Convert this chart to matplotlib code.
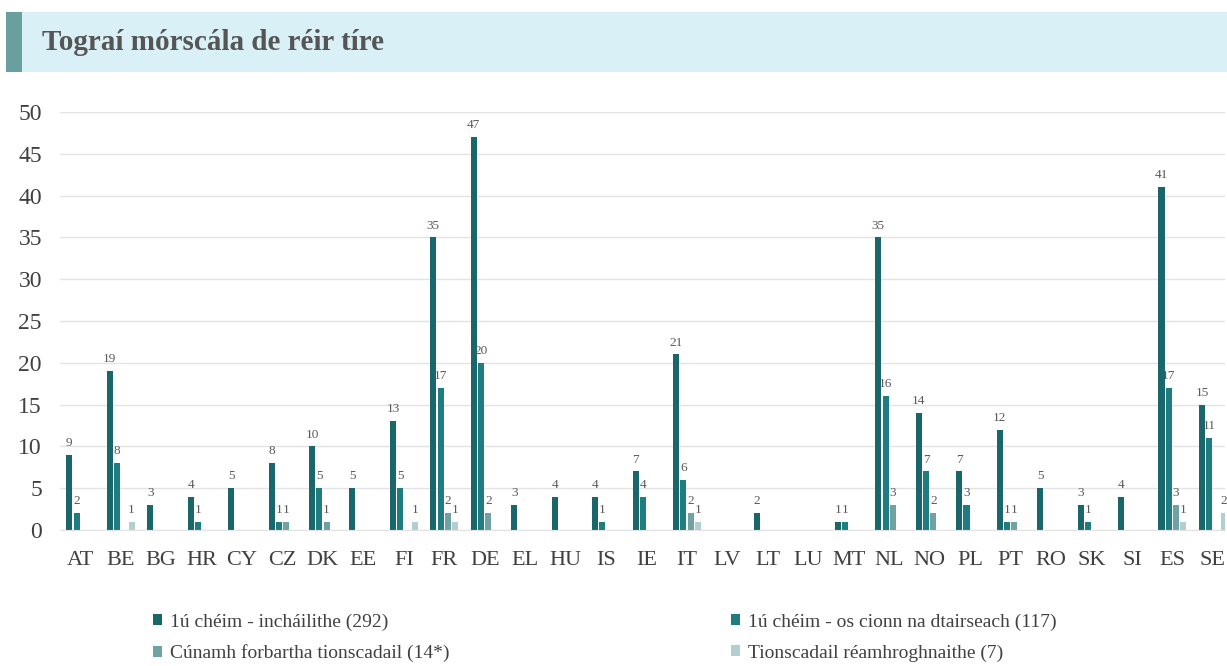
import matplotlib
matplotlib.use("Agg")
import matplotlib.pyplot as plt
import numpy as np
from matplotlib.patches import Rectangle, Patch

countries = ["AT", "BE", "BG", "HR", "CY", "CZ", "DK", "EE", "FI", "FR", "DE", "EL",
             "HU", "IS", "IE", "IT", "LV", "LT", "LU", "MT", "NL", "NO", "PL", "PT",
             "RO", "SK", "SI", "ES", "SE"]
eligible = [9, 19, 3, 4, 5, 8, 10, 5, 13, 35, 47, 3, 4, 4, 7, 21, 0, 2, 0, 1, 35, 14, 7, 12, 5, 3, 4, 41, 15]
above_threshold = [2, 8, 0, 1, 0, 1, 5, 0, 5, 17, 20, 0, 0, 1, 4, 6, 0, 0, 0, 1, 16, 7, 3, 1, 0, 1, 0, 17, 11]
dev_assistance = [0, 0, 0, 0, 0, 1, 1, 0, 0, 2, 2, 0, 0, 0, 0, 2, 0, 0, 0, 0, 3, 2, 0, 1, 0, 0, 0, 3, 0]
preselected = [0, 1, 0, 0, 0, 0, 0, 0, 1, 1, 0, 0, 0, 0, 0, 1, 0, 0, 0, 0, 0, 0, 0, 0, 0, 0, 0, 1, 2]

series_labels = ["1ú chéim - incháilithe (292)", "1ú chéim - os cionn na dtairseach (117)",
                 "Cúnamh forbartha tionscadail (14*)", "Tionscadail réamhroghnaithe (7)"]
colors = ["#19676b", "#1f7c80", "#6ea2a3", "#b3ced1"]

serif = ["Liberation Serif", "DejaVu Serif"]

fig = plt.figure(figsize=(12.27, 6.66), dpi=100)

# title band
fig.patches.append(Rectangle((6 / 1227, 1 - 72 / 666), 1 - 6 / 1227, 60 / 666,
                             transform=fig.transFigure, facecolor="#daf0f7",
                             edgecolor="none", zorder=0))
fig.patches.append(Rectangle((6 / 1227, 1 - 72 / 666), 16 / 1227, 60 / 666,
                             transform=fig.transFigure, facecolor="#6a9fa0",
                             edgecolor="none", zorder=1))
fig.text(42 / 1227, 1 - 42 / 666, "Tograí mórscála de réir tíre", family=serif,
         fontsize=21, fontweight="bold", color="#555555", va="center", ha="left")

ax = fig.add_axes([60 / 1227, 136 / 666, 1165 / 1227, 418 / 666])
x = np.arange(len(countries))
step = 0.18
width = 0.15
all_series = [eligible, above_threshold, dev_assistance, preselected]
for i, vals in enumerate(all_series):
    vals = np.array(vals)
    pos = x + (i - 1.5) * step
    mask = vals > 0
    ax.bar(pos[mask], vals[mask], width=width, color=colors[i], zorder=2)
    for px, v in zip(pos[mask], vals[mask]):
        ax.text(px, v + 0.7, str(v), ha="center", va="bottom", fontsize=9.5,
                family=serif, color="#595959")

ax.set_xlim(-0.5, 28.3)
ax.set_ylim(0, 50)
ax.set_yticks(range(0, 51, 5))
ax.set_xticks(x)
ax.set_xticklabels(countries)
ax.grid(axis="y", color="#e3e3e3", linewidth=1, zorder=0)
ax.set_axisbelow(True)
for s in ["top", "right", "left"]:
    ax.spines[s].set_visible(False)
ax.spines["bottom"].set_color("#e3e3e3")
ax.tick_params(length=0, labelcolor="#404040")
ax.tick_params(axis="y", labelsize=17, pad=13)
ax.tick_params(axis="x", labelsize=16, pad=15)
for lab in ax.get_xticklabels() + ax.get_yticklabels():
    lab.set_family(serif)

handles = [Patch(facecolor=c) for c in colors]
order = [0, 2, 1, 3]
fig.legend([handles[i] for i in order], [series_labels[i] for i in order],
           ncol=2, loc="lower left", bbox_to_anchor=(143 / 1227, -6 / 666),
           frameon=False, prop={"family": serif, "size": 14}, borderpad=0,
           handlelength=0.5, handleheight=0.5, handletextpad=0.4,
           columnspacing=14.45, labelspacing=0.7, labelcolor="#404040")

fig.savefig("out.png", dpi=100)
